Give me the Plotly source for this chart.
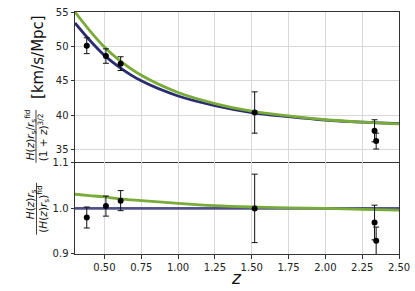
import plotly.graph_objects as go

# ---- data ----
z_model = [0.3, 0.4, 0.5, 0.6, 0.75, 1.0, 1.25, 1.5, 1.75, 2.0, 2.25, 2.5]
blue_top = [53.4, 50.9, 48.7, 47.0, 45.0, 42.8, 41.4, 40.4, 39.8, 39.3, 39.0, 38.8]
green_top = [55.0, 52.3, 49.9, 48.0, 45.8, 43.3, 41.7, 40.6, 39.9, 39.35, 39.0, 38.75]
blue_ratio = [1.0, 1.0, 1.0, 1.0, 1.0, 1.0, 1.0, 1.0, 1.0, 1.0, 1.0, 1.0]
green_ratio = [1.031, 1.028, 1.025, 1.021, 1.017, 1.011, 1.006, 1.003, 1.001, 1.0, 0.998, 0.996]

z_data = [0.38, 0.51, 0.61, 1.52, 2.334, 2.345]
top_vals = [50.1, 48.6, 47.5, 40.4, 37.75, 36.25]
top_errs = [1.15, 1.05, 1.0, 3.0, 1.6, 1.15]
low_vals = [0.980, 1.005, 1.017, 1.0, 0.969, 0.929]
low_errs = [0.023, 0.022, 0.022, 0.075, 0.038, 0.03]

x_ticks = [0.5, 0.75, 1.0, 1.25, 1.5, 1.75, 2.0, 2.25, 2.5]
y_top_ticks = [35, 40, 45, 50, 55]
y_low_ticks = [0.9, 1.0, 1.1]

BLUE = "#2b2d72"
GREEN = "#78ab38"
FONT = "DejaVu Sans"

fig = go.Figure()

# top panel
fig.add_trace(go.Scatter(x=z_model, y=blue_top, mode="lines", line=dict(color=BLUE, width=2.8, shape="spline"),
                         xaxis="x2", yaxis="y2", showlegend=False))
fig.add_trace(go.Scatter(x=z_model, y=green_top, mode="lines", line=dict(color=GREEN, width=2.8, shape="spline"),
                         xaxis="x2", yaxis="y2", showlegend=False))
fig.add_trace(go.Scatter(x=z_data, y=top_vals, mode="markers",
                         marker=dict(color="black", size=6),
                         error_y=dict(type="data", array=top_errs, color="#111", thickness=1, width=3),
                         xaxis="x2", yaxis="y2", showlegend=False))

# bottom panel
fig.add_trace(go.Scatter(x=z_model, y=blue_ratio, mode="lines", line=dict(color=BLUE, width=2.8),
                         opacity=0.8, xaxis="x", yaxis="y", showlegend=False))
fig.add_trace(go.Scatter(x=z_model, y=green_ratio, mode="lines", line=dict(color=GREEN, width=2.8, shape="spline"),
                         xaxis="x", yaxis="y", showlegend=False))
fig.add_trace(go.Scatter(x=z_data, y=low_vals, mode="markers",
                         marker=dict(color="black", size=6),
                         error_y=dict(type="data", array=low_errs, color="#111", thickness=1, width=3),
                         xaxis="x", yaxis="y", showlegend=False))

axis_common = dict(showline=True, linecolor="#333", linewidth=1,
                   showgrid=True, gridcolor="#d9d9d9", gridwidth=1, zeroline=False,
                   automargin=False,
                   tickfont=dict(family=FONT, size=10, color="#222"),
                   ticklen=3.5, tickcolor="#333", tickwidth=1)

SPLIT = 0.377
fig.update_layout(
    template="none",
    width=415, height=291, autosize=False,
    margin=dict(l=75, r=16, t=12, b=37, pad=0),
    paper_bgcolor="white", plot_bgcolor="white",
    font=dict(family=FONT, color="#222"),
    xaxis=dict(domain=[0, 1], anchor="y", range=[0.3, 2.5], tickvals=x_ticks, mirror=True,
               tickformat=".2f", ticks="outside", **axis_common),
    xaxis2=dict(domain=[0, 1], anchor="y2", matches="x", range=[0.3, 2.5], tickvals=x_ticks,
                side="top", mirror=False,
                showticklabels=False, ticks="", **axis_common),
    yaxis=dict(domain=[0, SPLIT], anchor="x", range=[0.9, 1.1], tickvals=y_low_ticks, mirror=True,
               tickformat=".1f", ticks="outside", **axis_common),
    yaxis2=dict(domain=[SPLIT, 1], anchor="x2", range=[33.1, 55], tickvals=y_top_ticks, mirror=True,
                ticks="outside", **axis_common),
)

def py(pix):
    return (254.3 - pix) / 242.3

def px(pix):
    return (pix - 75) / 324

ann = []
# top y label
ann.append(dict(text="[km/s/Mpc]", x=0, xref="paper", y=py(57), yref="paper", xshift=38 - 75,
                textangle=-90, showarrow=False, xanchor="center", yanchor="middle",
                font=dict(family=FONT, size=15, color="#111")))
ann.append(dict(text="<i>H</i>(<i>z</i>)<i>r</i><sub>s</sub>/<i>r</i><sub>s</sub><sup>fid</sup>",
                x=0, xref="paper", y=py(135), yref="paper", xshift=30.5 - 75,
                textangle=-90, showarrow=False, xanchor="center", yanchor="middle",
                font=dict(family=FONT, size=10.5, color="#111")))
ann.append(dict(text="(1 + <i>z</i>)<sup>3/2</sup>",
                x=0, xref="paper", y=py(138), yref="paper", xshift=42.5 - 75,
                textangle=-90, showarrow=False, xanchor="center", yanchor="middle",
                font=dict(family=FONT, size=10.5, color="#111")))
# bottom y label
ann.append(dict(text="<i>H</i>(<i>z</i>)<i>r</i><sub>s</sub>",
                x=0, xref="paper", y=py(205), yref="paper", xshift=30.5 - 75,
                textangle=-90, showarrow=False, xanchor="center", yanchor="middle",
                font=dict(family=FONT, size=10.5, color="#111")))
ann.append(dict(text="(<i>H</i>(<i>z</i>)<i>r</i><sub>s</sub>)<sup>fid</sup>",
                x=0, xref="paper", y=py(210), yref="paper", xshift=43 - 75,
                textangle=-90, showarrow=False, xanchor="center", yanchor="middle",
                font=dict(family=FONT, size=10.5, color="#111")))
# x title
ann.append(dict(text="<i>z</i>", x=px(236), xref="paper", y=py(278), yref="paper",
                showarrow=False, xanchor="center", yanchor="middle",
                font=dict(family=FONT, size=17, color="#111")))
fig.update_layout(annotations=ann)

fig.update_layout(shapes=[
    dict(type="line", xref="paper", yref="paper", x0=px(36), x1=px(36), y0=py(110), y1=py(163),
         line=dict(color="#111", width=0.8)),
    dict(type="line", xref="paper", yref="paper", x0=px(36.5), x1=px(36.5), y0=py(183), y1=py(235),
         line=dict(color="#111", width=0.8)),
])

fig.write_html("out.html", config={"displayModeBar": False},
               post_script="document.body.style.margin='0px';document.body.style.overflow='hidden';")
